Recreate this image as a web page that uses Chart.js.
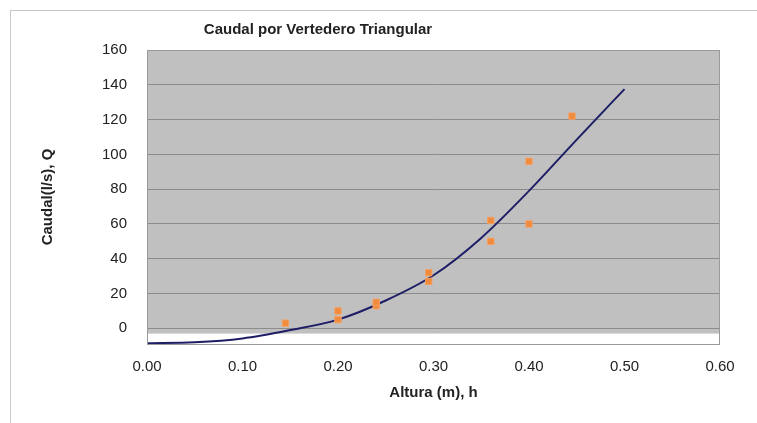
<!DOCTYPE html>
<html>
<head>
<meta charset="utf-8">
<script src="https://cdn.jsdelivr.net/npm/chart.js@4"></script>
<style>
  body { margin: 0; background: #fff; }
  #wrap { position: relative; width: 757px; height: 423px; }
  #frame { position: absolute; left: 10px; top: 10px; width: 760px; height: 420px; border: 1px solid #c8c8c8; }
  #title { position: absolute; left: 0; top: 20px; width: 636px; text-align: center;
           font: bold 15px "Liberation Sans", Arial, sans-serif; color: #222; }
  canvas { position: absolute; left: 0; top: 0; }
</style>
</head>
<body>
<div id="wrap">
  <div id="frame"></div>
  <canvas id="chart" width="757" height="423"></canvas>
  <div id="title">Caudal por Vertedero Triangular</div>
</div>
<script>
// measured points
hData = [0.145, 0.20, 0.20, 0.24, 0.24, 0.295, 0.295, 0.36, 0.36, 0.40, 0.40, 0.445];
qData = [3, 5, 10, 13, 15, 27, 32, 50, 62, 60, 96, 122];

// trend curve
hCurve = [0, 0.05, 0.10, 0.15, 0.20, 0.25, 0.30, 0.35, 0.40, 0.45, 0.50];
qCurve = [-8.5, -8, -5.8, -1, 5, 16, 30.5, 52, 79, 108.5, 137.5];

yTicks = [0, 20, 40, 60, 80, 100, 120, 140, 160];
xTicks = [0, 0.1, 0.2, 0.3, 0.4, 0.5, 0.6];
bandMin = -3;

const tickFont = { family: '"Liberation Sans", Arial, sans-serif', size: 15 };
const titleFont = { family: '"Liberation Sans", Arial, sans-serif', size: 15, weight: 'bold' };

const plotBg = {
  id: 'plotBg',
  beforeDraw(chart) {
    const { ctx, chartArea: a, scales } = chart;
    ctx.save();
    ctx.fillStyle = '#ffffff';
    ctx.fillRect(a.left, a.top, a.right - a.left, a.bottom - a.top);
    const yTop = scales.y.getPixelForValue(scales.y.max);
    const yBot = scales.y.getPixelForValue(bandMin);
    ctx.fillStyle = '#c0c0c0';
    ctx.fillRect(a.left, yTop, a.right - a.left, yBot - yTop);
    ctx.restore();
  },
  afterDatasetsDraw(chart) {
    const { ctx, chartArea: a } = chart;
    ctx.save();
    ctx.strokeStyle = '#9a9a9a';
    ctx.lineWidth = 1;
    ctx.strokeRect(a.left + 0.5, a.top + 0.5, a.right - a.left - 1, a.bottom - a.top);
    ctx.restore();
  }
};

new Chart(document.getElementById('chart'), {
  type: 'scatter',
  data: {
    datasets: [
      {
        label: 'Medidos',
        data: hData.map((h, i) => ({ x: h, y: qData[i] })),
        pointStyle: 'rect',
        pointRadius: 4.5,
        backgroundColor: '#f08a3c',
        borderColor: '#f4a062',
        borderWidth: 1,
        order: 0
      },
      {
        label: 'Curva',
        data: hCurve.map((h, i) => ({ x: h, y: qCurve[i] })),
        showLine: true,
        pointRadius: 0,
        borderColor: '#1e1e66',
        borderWidth: 2,
        cubicInterpolationMode: 'monotone',
        order: 1
      }
    ]
  },
  options: {
    responsive: false,
    animation: false,
    layout: { padding: { left: 0, right: 37, top: 50, bottom: 0 } },
    plugins: { legend: { display: false }, tooltip: { enabled: false } },
    scales: {
      x: {
        type: 'linear',
        min: 0,
        max: 0.6,
        afterBuildTicks: s => { s.ticks = xTicks.map(v => ({ value: v })); },
        afterFit: s => { s.height = 79; },
        grid: { display: false, drawTicks: false },
        border: { display: false },
        ticks: {
          font: tickFont,
          color: '#222',
          padding: 14,
          callback: v => Number(v).toFixed(2)
        },
        title: { display: true, text: 'Altura (m), h', font: titleFont, color: '#222', padding: { bottom: 21 } }
      },
      y: {
        min: -9,
        max: 160,
        afterBuildTicks: s => { s.ticks = yTicks.map(v => ({ value: v })); },
        afterFit: s => { s.width = 147; },
        grid: { color: '#8c8c8c', lineWidth: 1, drawTicks: false },
        border: { display: false },
        ticks: { font: tickFont, color: '#222', padding: 20 },
        title: { display: true, text: 'Caudal(l/s), Q', font: titleFont, color: '#222', padding: { top: 39 } }
      }
    }
  },
  plugins: [plotBg]
});
</script>
</body>
</html>
